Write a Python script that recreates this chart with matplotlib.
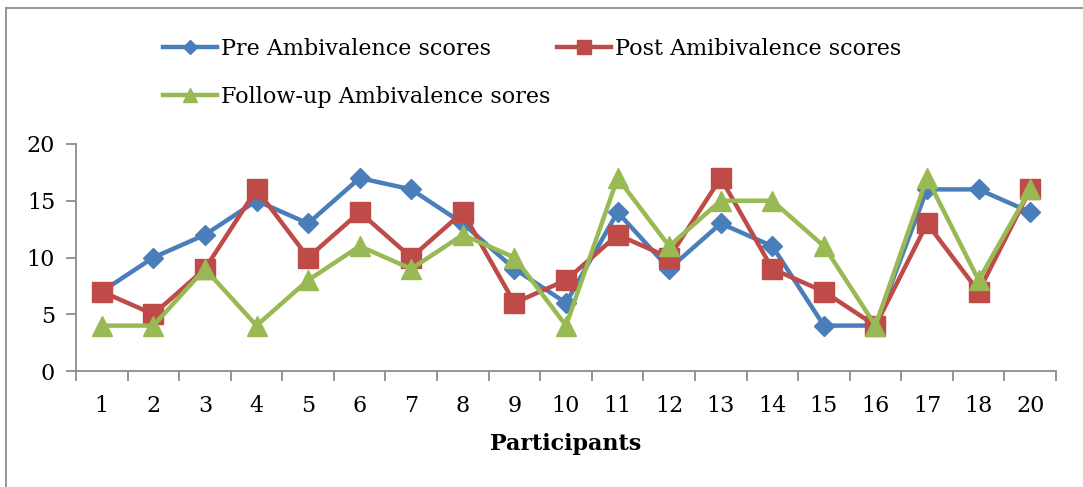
import matplotlib
matplotlib.use("Agg")
import matplotlib.pyplot as plt
from matplotlib.lines import Line2D
import numpy as np

participants = ["1", "2", "3", "4", "5", "6", "7", "8", "9", "10",
                "11", "12", "13", "14", "15", "16", "17", "18", "20"]
pre_scores = [7, 10, 12, 15, 13, 17, 16, 13, 9, 6, 14, 9, 13, 11, 4, 4, 16, 16, 14]
post_scores = [7, 5, 9, 16, 10, 14, 10, 14, 6, 8, 12, 10, 17, 9, 7, 4, 13, 7, 16]
followup_scores = [4, 4, 9, 4, 8, 11, 9, 12, 10, 4, 17, 11, 15, 15, 11, 4, 17, 8, 16]

plt.rcParams['font.family'] = ['DejaVu Serif']

W, H = 1083, 487
fig = plt.figure(figsize=(W / 100, H / 100), dpi=100)

# chart border (top and left edges fall inside the canvas)
border = dict(transform=fig.transFigure, color="#8c8c8c", linewidth=1.3)
fig.lines.append(Line2D([6 / W, 1.0], [1 - 8 / H, 1 - 8 / H], **border))
fig.lines.append(Line2D([6 / W, 6 / W], [0, 1 - 8 / H], **border))

ax = fig.add_axes([76 / W, 1 - 371 / H, (1056 - 76) / W, (371 - 144) / H])

x = np.arange(len(participants))
blue, red, green = "#4a7ebb", "#be4b48", "#98b954"
l_pre, = ax.plot(x, pre_scores, color=blue, lw=3.2, marker="D", ms=10.5,
                 label="Pre Ambivalence scores")
l_post, = ax.plot(x, post_scores, color=red, lw=3.2, marker="s", ms=14,
                  label="Post Amibivalence scores")
l_fu, = ax.plot(x, followup_scores, color=green, lw=3.2, marker="^", ms=15,
                label="Follow-up Ambivalence sores")

ax.set_xlim(-0.5, len(participants) - 0.5)
ax.set_ylim(0, 20)
ax.set_yticks([0, 5, 10, 15, 20])
ax.set_xticks(x)
ax.set_xticklabels(participants)
ax.set_xticks(np.arange(-0.5, len(participants)), minor=True)
ax.tick_params(axis="x", which="major", length=0, pad=17, labelsize=16)
ax.tick_params(axis="x", which="minor", length=7, width=1.3, color="#8c8c8c", direction="out")
ax.tick_params(axis="y", length=7, width=1.3, color="#8c8c8c", direction="out", labelsize=16, pad=8)
for s in ["top", "right"]:
    ax.spines[s].set_visible(False)
for s in ["left", "bottom"]:
    ax.spines[s].set_color("#8c8c8c")
    ax.spines[s].set_linewidth(1.3)

ax.set_xlabel("Participants", fontsize=16, fontweight="bold", labelpad=12)

# legend filled row by row: Pre, Post / Follow-up
leg = fig.legend([l_pre, l_fu, l_post],
                 [l_pre.get_label(), l_fu.get_label(), l_post.get_label()],
                 loc="upper left", bbox_to_anchor=(143 / W, 1 - 18 / H), ncol=2,
                 frameon=False, fontsize=16, handlelength=2.45, handletextpad=0.15,
                 columnspacing=0.3, labelspacing=1.15, markerscale=0.7)

fig.savefig("out.png", dpi=100)
